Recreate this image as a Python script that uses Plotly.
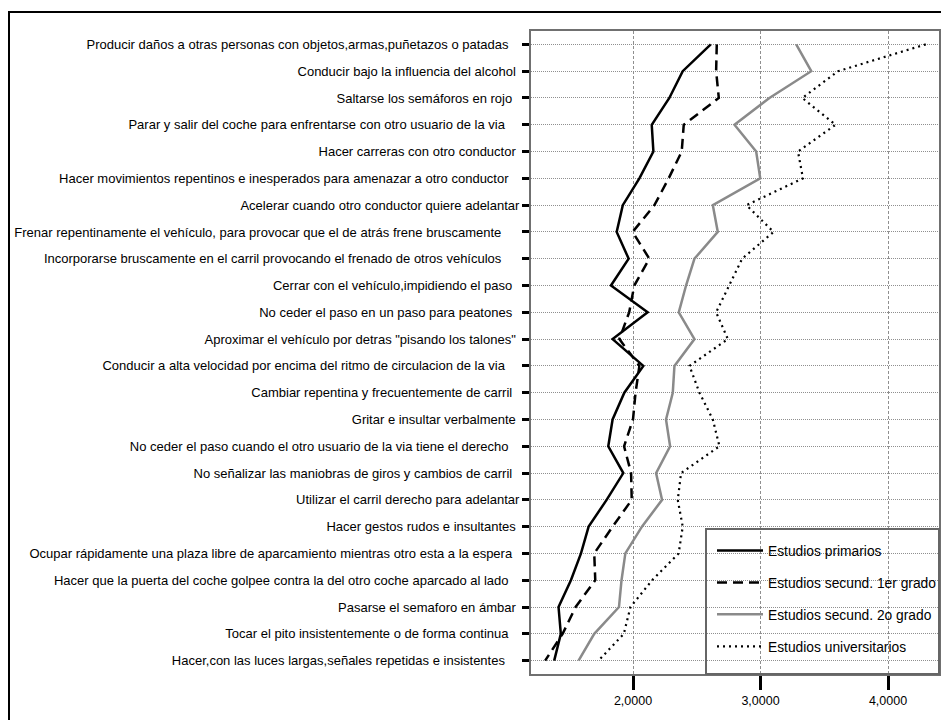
import plotly.graph_objects as go

categories = [
    "Producir daños a otras personas con objetos,armas,puñetazos o patadas   ",
    "Conducir bajo la influencia del alcohol ",
    "Saltarse los semáforos en rojo  ",
    "Parar y salir del coche para enfrentarse con otro usuario de la via    ",
    "Hacer carreras con otro conductor ",
    "Hacer movimientos repentinos e inesperados para amenazar a otro conductor   ",
    "Acelerar cuando otro conductor quiere adelantar",
    "Frenar repentinamente el vehículo, para provocar que el de atrás frene bruscamente     ",
    "Incorporarse bruscamente en el carril provocando el frenado de otros vehículos     ",
    "Cerrar con el vehículo,impidiendo el paso  ",
    "No ceder el paso en un paso para peatones  ",
    "Aproximar el vehículo por detras \"pisando los talones\" ",
    "Conducir a alta velocidad por encima del ritmo de circulacion de la via    ",
    "Cambiar repentina y frecuentemente de carril  ",
    "Gritar e insultar verbalmente ",
    "No ceder el paso cuando el otro usuario de la via tiene el derecho   ",
    "No señalizar las maniobras de giros y cambios de carril  ",
    "Utilizar el carril derecho para adelantar",
    "Hacer gestos rudos e insultantes ",
    "Ocupar rápidamente una plaza libre de aparcamiento mientras otro esta a la espera  ",
    "Hacer que la puerta del coche golpee contra la del otro coche aparcado al lado   ",
    "Pasarse el semaforo en ámbar ",
    "Tocar el pito insistentemente o de forma continua   ",
    "Hacer,con las luces largas,señales repetidas e insistentes    ",
]

series_names = [
    "Estudios primarios",
    "Estudios secund. 1er grado",
    "Estudios secund. 2o grado",
    "Estudios universitarios",
]

primarios = [2.61, 2.39, 2.285, 2.147, 2.16, 2.05, 1.92, 1.872, 1.966, 1.827, 2.115, 1.84,
             2.081, 1.932, 1.84, 1.806, 1.924, 1.793, 1.652, 1.592, 1.513, 1.416, 1.434, 1.382]
secund_1 = [2.657, 2.652, 2.673, 2.398, 2.382, 2.28, 2.168, 1.997, 2.128, 2.01, 1.97, 1.893,
            2.05, 2.02, 2.0, 1.93, 1.985, 1.99, 1.84, 1.696, 1.704, 1.55, 1.448, 1.311]
secund_2 = [3.28, 3.398, 3.07, 2.796, 2.966, 2.998, 2.626, 2.665, 2.482, 2.416, 2.359, 2.482,
            2.325, 2.312, 2.259, 2.291, 2.181, 2.228, 2.07, 1.94, 1.91, 1.89, 1.696, 1.573]
universitarios = [4.296, 3.608, 3.328, 3.589, 3.294, 3.333, 2.89, 3.102, 2.856, 2.757, 2.652, 2.744,
                  2.443, 2.521, 2.626, 2.678, 2.377, 2.351, 2.39, 2.358, 2.15, 1.98, 1.928, 1.73]

x_ticks = [2, 3, 4]

FONT = "Liberation Sans, Arial, sans-serif"

# keep trailing spaces of the original labels visible
def keep_spaces(s):
    stripped = s.rstrip(" ")
    return stripped + "\u00a0" * (len(s) - len(stripped))

tick_text = [keep_spaces(c) for c in categories]
y_idx = list(range(len(categories)))

styles = [
    dict(color="#000000", width=2.5, dash="solid"),
    dict(color="#000000", width=2.5, dash="10px,6px"),
    dict(color="#8a8a8a", width=2.5, dash="solid"),
    dict(color="#000000", width=2.2, dash="2px,4px"),
]

fig = go.Figure()
for i, (name, vals) in enumerate(zip(series_names, [primarios, secund_1, secund_2, universitarios])):
    fig.add_trace(go.Scatter(
        x=vals, y=y_idx, mode="lines", name=name,
        line=styles[i], legendgroup=f"g{i}",
    ))

# page body has an 8px margin: work in page pixels and shift
OFF = 8
W, H = 949 - OFF, 720 - OFF
L, R, T, B = 531 - OFF, 939 - OFF, 31 - OFF, 674 - OFF
pw, ph = R - L, B - T

def px_x(p):  # page pixel -> paper x
    return (p - OFF - L) / pw

def px_y(p):  # page pixel -> paper y
    return (B - (p - OFF)) / ph

fig.update_layout(
    width=W, height=H,
    margin=dict(l=L, r=W - R, t=T, b=H - B, pad=0, autoexpand=False),
    paper_bgcolor="white", plot_bgcolor="white",
    separators=",.",
    font=dict(family=FONT, size=13, color="black"),
    showlegend=True,
    legend=dict(
        x=px_x(712), y=px_y(535), xanchor="left", yanchor="top",
        bgcolor="rgba(0,0,0,0)", borderwidth=0,
        font=dict(family=FONT, size=13.8, color="black"),
        itemwidth=46, tracegroupgap=11, traceorder="grouped",
    ),
    shapes=[
        # legend box
        dict(type="rect", xref="paper", yref="paper",
             x0=px_x(706), x1=1, y0=0, y1=px_y(529),
             line=dict(color="#666666", width=2), fillcolor="rgba(0,0,0,0)"),
        # outer frame
        dict(type="rect", xref="paper", yref="paper",
             x0=px_x(9), x1=px_x(970), y0=px_y(740), y1=px_y(12),
             line=dict(color="black", width=2), fillcolor="rgba(0,0,0,0)"),
    ],
)

fig.update_xaxes(
    range=[1.2, 4.4], tickvals=x_ticks, tickformat=".4f",
    showgrid=True, gridcolor="#8f8f8f", gridwidth=1, griddash="3px,2px",
    showline=True, linecolor="#707070", linewidth=2, mirror=True,
    ticks="outside", ticklen=14, tickwidth=3, tickcolor="black",
    tickfont=dict(family=FONT, size=12.5, color="black"),
    zeroline=False,
)
fig.update_yaxes(
    range=[len(categories) - 0.5, -0.5],
    tickvals=y_idx, ticktext=tick_text,
    showgrid=True, gridcolor="#8f8f8f", gridwidth=1, griddash="1px,1px",
    showline=True, linecolor="#707070", linewidth=2, mirror=True,
    ticks="outside", ticklen=7, tickwidth=3, tickcolor="black",
    tickfont=dict(family=FONT, size=13, color="black"),
    zeroline=False, automargin=False,
)

fig.write_html("out.html")
